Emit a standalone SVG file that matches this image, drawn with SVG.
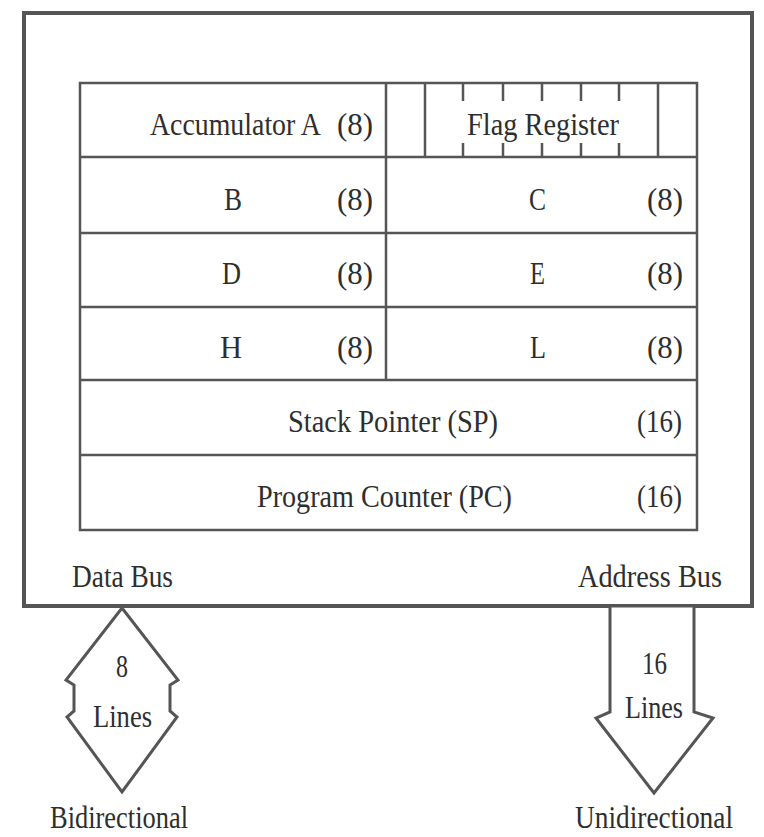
<svg xmlns="http://www.w3.org/2000/svg" width="764" height="837" viewBox="0 0 764 837">
<style>
.ln{fill:none;stroke:#555;stroke-width:2.5}
.ob{fill:none;stroke:#555;stroke-width:4}
.ar{fill:#fff;stroke:#555;stroke-width:3;stroke-linejoin:miter}
text{font-family:"Liberation Serif","Times New Roman",serif;font-size:32px;fill:#2e2e2e}
</style>
<rect width="764" height="837" fill="#fff"/>
<g id="cpu-box">
<rect class="ob" x="24" y="13" width="728" height="593"/>
</g>
<g id="register-table">
<rect class="ln" x="80" y="83" width="617" height="447"/>
<line class="ln" x1="80" y1="157" x2="697" y2="157"/>
<line class="ln" x1="80" y1="233" x2="697" y2="233"/>
<line class="ln" x1="80" y1="307" x2="697" y2="307"/>
<line class="ln" x1="80" y1="380" x2="697" y2="380"/>
<line class="ln" x1="80" y1="455" x2="697" y2="455"/>
<line class="ln" x1="386" y1="83" x2="386" y2="380"/>
</g>
<g id="accumulator">
<text transform="translate(150 135) scale(0.87 1)" x="0" y="0">Accumulator A</text>
<text x="337" y="135" textLength="36" lengthAdjust="spacingAndGlyphs">(8)</text>
</g>
<g id="flag-register">
<line class="ln" x1="425" y1="83" x2="425" y2="157"/>
<line class="ln" x1="658" y1="83" x2="658" y2="157"/>
<path class="ln" d="M463 83V101M503 83V101M542 83V101M581 83V101M619 83V101M463 143V157M503 143V157M542 143V157M581 143V157M619 143V157"/>
<text x="467" y="135" textLength="152" lengthAdjust="spacingAndGlyphs">Flag Register</text>
</g>
<g id="reg-b">
<text x="224" y="210" textLength="18" lengthAdjust="spacingAndGlyphs">B</text>
<text x="337" y="210" textLength="36" lengthAdjust="spacingAndGlyphs">(8)</text>
</g>
<g id="reg-c">
<text x="529" y="210" textLength="17" lengthAdjust="spacingAndGlyphs">C</text>
<text x="647" y="210" textLength="36" lengthAdjust="spacingAndGlyphs">(8)</text>
</g>
<g id="reg-d">
<text x="222" y="284" textLength="19" lengthAdjust="spacingAndGlyphs">D</text>
<text x="337" y="284" textLength="36" lengthAdjust="spacingAndGlyphs">(8)</text>
</g>
<g id="reg-e">
<text x="530" y="284" textLength="15" lengthAdjust="spacingAndGlyphs">E</text>
<text x="647" y="284" textLength="36" lengthAdjust="spacingAndGlyphs">(8)</text>
</g>
<g id="reg-h">
<text x="220" y="358" textLength="22" lengthAdjust="spacingAndGlyphs">H</text>
<text x="337" y="358" textLength="36" lengthAdjust="spacingAndGlyphs">(8)</text>
</g>
<g id="reg-l">
<text x="530" y="358" textLength="16" lengthAdjust="spacingAndGlyphs">L</text>
<text x="647" y="358" textLength="36" lengthAdjust="spacingAndGlyphs">(8)</text>
</g>
<g id="stack-pointer">
<text x="288" y="432" textLength="210" lengthAdjust="spacingAndGlyphs">Stack Pointer (SP)</text>
<text x="637" y="432" textLength="45" lengthAdjust="spacingAndGlyphs">(16)</text>
</g>
<g id="program-counter">
<text x="257" y="507" textLength="255" lengthAdjust="spacingAndGlyphs">Program Counter (PC)</text>
<text x="637" y="507" textLength="45" lengthAdjust="spacingAndGlyphs">(16)</text>
</g>
<g id="bus-labels">
<text x="72" y="587" textLength="101" lengthAdjust="spacingAndGlyphs">Data Bus</text>
<text x="578" y="587" textLength="144" lengthAdjust="spacingAndGlyphs">Address Bus</text>
</g>
<g id="connectors">
<g id="data-bus-arrow">
<polygon class="ar" points="122,608 178,680 170,685 170,711 177,717 122,792 67,717 74,711 74,685 66,680"/>
<text x="116" y="677" textLength="12" lengthAdjust="spacingAndGlyphs">8</text>
<text x="93" y="727" textLength="59" lengthAdjust="spacingAndGlyphs">Lines</text>
</g>
<g id="address-bus-arrow">
<polygon class="ar" points="610,606 610,712 596,718 654,793 713,718 694,712 694,606"/>
<text x="642" y="674" textLength="25" lengthAdjust="spacingAndGlyphs">16</text>
<text x="625" y="718" textLength="58" lengthAdjust="spacingAndGlyphs">Lines</text>
</g>
</g>
<g id="direction-labels">
<text x="50" y="828" textLength="138" lengthAdjust="spacingAndGlyphs">Bidirectional</text>
<text x="575" y="828" textLength="158" lengthAdjust="spacingAndGlyphs">Unidirectional</text>
</g>
</svg>
